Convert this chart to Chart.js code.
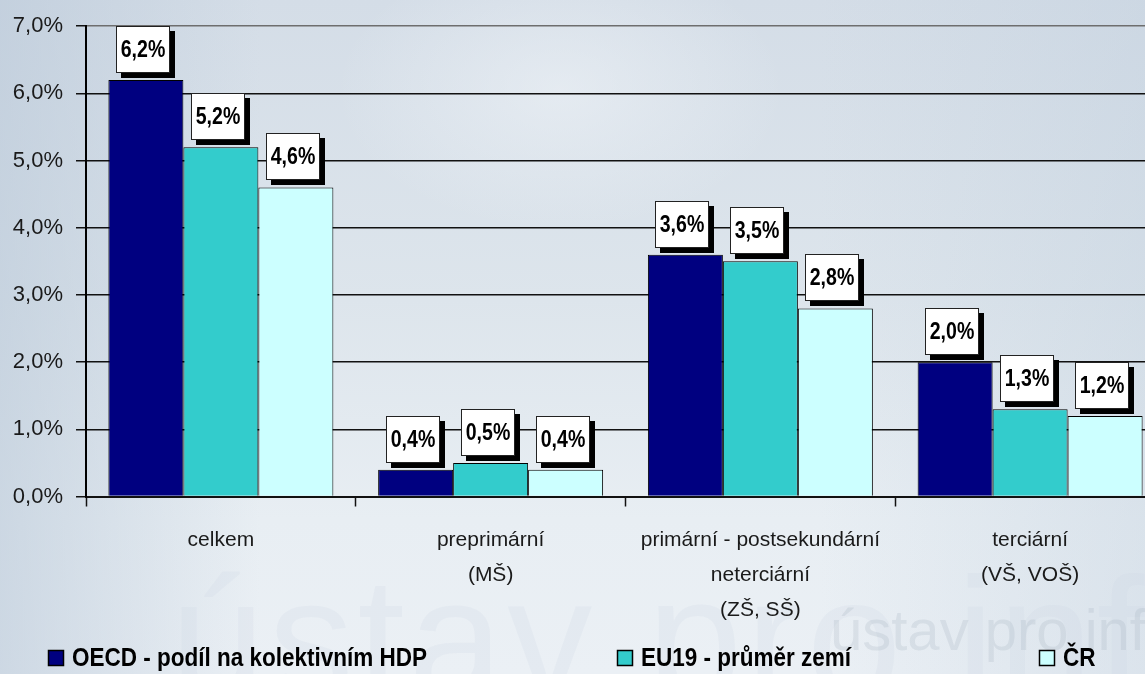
<!DOCTYPE html>
<html lang="cs">
<head>
<meta charset="utf-8">
<title>Výdaje na vzdělávání</title>
<script src="https://cdn.jsdelivr.net/npm/chart.js@4.4.1/dist/chart.umd.min.js"></script>
<style>
    html, body { margin: 0; padding: 0; width: 1145px; height: 674px; overflow: hidden; }
    body {
        position: relative;
        font-family: "Liberation Sans", Arial, sans-serif;
        background:
            radial-gradient(ellipse 320px 200px at 560px 90px, rgba(240,244,248,0.55), rgba(240,244,248,0) 70%),
            linear-gradient(90deg, rgba(185,200,216,0.6) 0px, rgba(190,205,220,0) 260px, rgba(190,205,220,0) 820px, rgba(190,205,220,0.35) 1145px),
            linear-gradient(180deg, #d4dde7 0px, #dde5ec 300px, #e8eef3 520px, #ebf0f5 674px);
    }
    .wm { position: absolute; white-space: nowrap; pointer-events: none; }
    .wm-big { left: 170px; top: 540px; font-size: 170px; color: rgba(205,216,228,0.22); letter-spacing: 4px; }
    .wm-small { left: 830px; top: 596px; font-size: 58px; color: rgba(160,174,188,0.22); }
    .chart-box { position: absolute; left: 0; top: 0; width: 1200px; height: 674px; }
</style>
</head>
<body>
<div class="wm wm-big">ústav pro inform</div>
<div class="wm wm-small">ústav pro infor</div>
<div class="chart-box"><canvas id="eduChart"></canvas></div>
<script>
// categories (x axis) and the three series, % of GDP
const categories = [
    'celkem',
    ['preprimární', '(MŠ)'],
    ['primární - postsekundární', 'neterciární', '(ZŠ, SŠ)'],
    ['terciární', '(VŠ, VOŠ)']
];
const oecdValues = [6.2, 0.4, 3.6, 2.0];
const eu19Values = [5.2, 0.5, 3.5, 1.3];
const crValues = [4.6, 0.4, 2.8, 1.2];
const seriesNames = ['OECD - podíl na kolektivním HDP', 'EU19 - průměr zemí', 'ČR'];
const seriesColors = ['#000080', '#33cccc', '#ccffff'];
const yTicks = [0, 1, 2, 3, 4, 5, 6, 7];

const fmt = v => v.toFixed(1).replace('.', ',') + '%';

// white boxes with a black drop shadow above each bar
const boxLabels = {
    id: 'boxLabels',
    afterDatasetsDraw(chart) {
        const ctx = chart.ctx;
        ctx.save();
        chart.data.datasets.forEach((ds, di) => {
            const meta = chart.getDatasetMeta(di);
            meta.data.forEach((bar, i) => {
                const w = 54, h = 47;
                const bx = Math.round(bar.x - 3 - w / 2);
                const by = Math.round(bar.y - 7 - h);
                ctx.fillStyle = '#000';
                ctx.fillRect(bx + 5, by + 5, w, h);
                ctx.fillStyle = '#fff';
                ctx.fillRect(bx, by, w, h);
                ctx.strokeStyle = '#222';
                ctx.lineWidth = 1;
                ctx.strokeRect(bx + 0.5, by + 0.5, w - 1, h - 1);
                ctx.save();
                ctx.translate(bx + w / 2, by + h / 2 + 1);
                ctx.scale(0.85, 1);
                ctx.fillStyle = '#000';
                ctx.font = 'bold 23px "Liberation Sans", Arial, sans-serif';
                ctx.textAlign = 'center';
                ctx.textBaseline = 'middle';
                ctx.fillText(fmt(ds.data[i]), 0, 0);
                ctx.restore();
            });
        });
        ctx.restore();
    }
};

// legend row at the bottom, spread like the original slide
const legendSpots = [48, 617, 1039];
const bottomLegend = {
    id: 'bottomLegend',
    afterDraw(chart) {
        const ctx = chart.ctx;
        ctx.save();
        chart.data.datasets.forEach((ds, di) => {
            const x = legendSpots[di], y = 658;
            ctx.fillStyle = ds.backgroundColor;
            ctx.fillRect(x, y - 8, 16, 16);
            ctx.strokeStyle = '#000';
            ctx.lineWidth = 1.5;
            ctx.strokeRect(x + 0.5, y - 7.5, 15, 15);
            ctx.save();
            ctx.translate(x + 24, y + 1);
            ctx.scale(0.9, 1);
            ctx.fillStyle = '#000';
            ctx.font = 'bold 25px "Liberation Sans", Arial, sans-serif';
            ctx.textBaseline = 'middle';
            ctx.fillText(ds.label, 0, 0);
            ctx.restore();
        });
        ctx.restore();
    }
};

new Chart(document.getElementById('eduChart'), {
    type: 'bar',
    data: {
        labels: categories,
        datasets: [oecdValues, eu19Values, crValues].map((vals, i) => ({
            label: seriesNames[i],
            data: vals,
            backgroundColor: seriesColors[i],
            borderColor: '#000',
            borderWidth: 1,
            categoryPercentage: 0.834,
            barPercentage: 1
        }))
    },
    options: {
        responsive: true,
        maintainAspectRatio: false,
        animation: false,
        layout: { autoPadding: false, padding: { top: 22, right: 35, left: 0, bottom: 0 } },
        plugins: {
            legend: { display: false },
            tooltip: { enabled: false }
        },
        scales: {
            x: {
                afterFit: s => { s.height = 177.5; },
                grid: {
                    offset: true,
                    drawOnChartArea: false,
                    drawTicks: true,
                    tickLength: 10,
                    tickColor: '#111',
                    tickWidth: 1.5
                },
                border: { color: '#111', width: 2 },
                ticks: {
                    color: '#1a1a1a',
                    padding: 16,
                    maxRotation: 0,
                    autoSkip: false,
                    font: { family: '"Liberation Sans", Arial, sans-serif', size: 21, lineHeight: '35px' }
                }
            },
            y: {
                min: 0,
                max: 7,
                afterFit: s => { s.width = 86; },
                afterBuildTicks: s => { s.ticks = yTicks.map(v => ({ value: v })); },
                grid: {
                    color: ctx => ctx.tick && ctx.tick.value === 7 ? '#6e6e6e' : '#111',
                    lineWidth: 1.5,
                    tickLength: 10,
                    tickColor: '#111'
                },
                border: { color: '#000', width: 2 },
                ticks: {
                    color: '#1a1a1a',
                    padding: 13,
                    callback: v => fmt(v),
                    font: { family: '"Liberation Sans", Arial, sans-serif', size: 22 }
                }
            }
        }
    },
    plugins: [boxLabels, bottomLegend]
});
</script>
</body>
</html>
